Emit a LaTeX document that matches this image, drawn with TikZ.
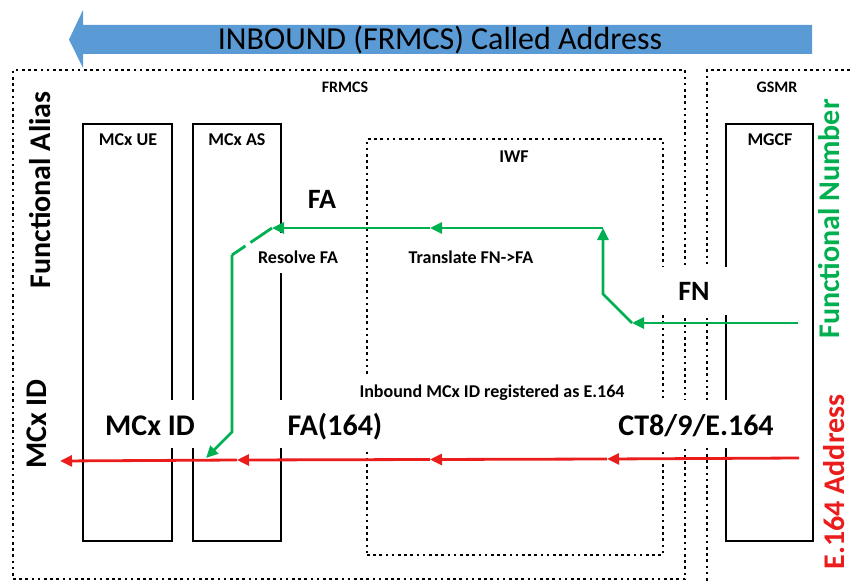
\documentclass[tikz,border=0pt]{standalone}
\usepackage{fontspec}
\setmainfont{Carlito}
\usetikzlibrary{arrows.meta}
\definecolor{fgreen}{HTML}{00B050}
\definecolor{fred}{HTML}{EB1C1C}
\definecolor{fblue}{HTML}{5B9BD5}
\tikzset{
  zone/.style={draw, line width=1.9pt, dash pattern=on 2.6pt off 3.6pt, inner sep=0pt, outer sep=0pt},
  unit/.style={draw, line width=1.5pt, inner sep=0pt, outer sep=0pt},
  small/.style={font=\fontsize{18}{20}\selectfont\bfseries, inner sep=1pt},
  tiny/.style={font=\fontsize{16}{18}\selectfont\bfseries, inner sep=1pt},
  big/.style={font=\fontsize{30}{32}\selectfont\bfseries, fill=white, inner sep=0pt, anchor=base},
  side/.style={font=\fontsize{30}{32}\selectfont\bfseries, rotate=90, inner sep=0pt},
  gflow/.style={fgreen, line width=2.8pt, -{Triangle[length=12pt,width=11pt]}},
  rflow/.style={fred, line width=2.8pt, -{Triangle[length=12pt,width=11pt]}},
}
\begin{document}
\begin{tikzpicture}[x=1pt,y=-1pt]
\useasboundingbox (0,0) rectangle (851,583);

% banner
\fill[fblue] (812,25) -- (83,25) -- (83,10) -- (69,39.5) -- (83,68) -- (83,54) -- (812,54) -- cycle;
\node[font=\fontsize{32}{34}\selectfont] (title) at (440,40) {INBOUND (FRMCS) Called Address};

% domains
\node[zone, minimum width=672pt, minimum height=509pt] (frmcs) at (349,324.5) {};
\node[zone, minimum width=163pt, minimum height=530pt] (gsmr) at (788.5,335) {};
\node[zone, minimum width=296pt, minimum height=416pt] (iwf) at (515,347) {};
\node[tiny] (frmcslbl) at (345,87) {FRMCS};
\node[tiny] (gsmrlbl) at (777,87) {GSMR};
\node[small] (iwflbl) at (514,157) {IWF};

% entities
\node[unit, minimum width=89pt, minimum height=417pt] (ue) at (127.5,332.5) {};
\node[unit, minimum width=88pt, minimum height=417pt] (as) at (237,332.5) {};
\node[unit, minimum width=87pt, minimum height=417pt] (mgcf) at (769.5,332.5) {};
\node[small] (uelbl) at (128,140) {MCx UE};
\node[small] (aslbl) at (237,140) {MCx AS};
\node[small] (mgcflbl) at (770,140) {MGCF};

% labels on the flows (white, they cut the box lines)
\node[big, font=\fontsize{28}{30}\selectfont\bfseries] (fa) at (322,208) {FA};
\node[small, fill=white, anchor=base, text height=30pt, text depth=10pt, inner sep=0pt, inner xsep=2pt] (resolve) at (298,263) {Resolve FA};
\node[small, anchor=base] (translate) at (471,263) {Translate FN->FA};
\node[big, font=\fontsize{28}{30}\selectfont\bfseries, minimum width=72pt, text height=33pt, text depth=15pt] (fn) at (694,300) {FN};
\node[small, fill=white, anchor=base, text height=20pt, text depth=3pt, inner sep=0pt] (inbound) at (492,397) {Inbound MCx ID registered as E.164};
\node[big, text height=35pt, text depth=13pt] (mcxid) at (150,435) {MCx ID};
\node[big, minimum width=114pt, text height=35pt, text depth=13pt] (fa164) at (335,435) {FA(164)};
\node[big, text height=35pt, text depth=13pt] (ct) at (696,435) {CT8/9/E.164};

% side titles
\node[side] (alias) at (40,190) {Functional Alias};
\node[side] (idside) at (37,424) {MCx ID};
\node[side, text=fgreen] (number) at (829,219) {Functional Number};
\node[side, text=fred] (e164) at (834,482) {E.164 Address};

% green flow
\coordinate (g0) at (798,323);
\coordinate (g1) at (632,323);
\coordinate (g2) at (603,294);
\coordinate (g3) at (603,228);
\coordinate (g4) at (430,228);
\coordinate (g5) at (272,228);
\coordinate (g6) at (232,255);
\coordinate (g7) at (232,432);
\coordinate (g8) at (206,458);
\draw[gflow] (g0) -- (g1);
\draw[gflow] (g1) -- (g2) -- (g3);
\draw[gflow] (g3) -- (g4);
\draw[gflow] (g4) -- (g5);
\draw[fgreen, line width=2.8pt, dash pattern=on 26pt off 6pt on 30pt] (g5) -- (g6);
\draw[gflow] (g6) -- (g7) -- (g8);

% red flow
\coordinate (r0) at (799,458);
\coordinate (r1) at (607,459);
\coordinate (r2) at (430,459.5);
\coordinate (r3) at (237,460);
\coordinate (r4) at (60,461);
\draw[rflow] (r0) -- (r1);
\draw[rflow] (r1) -- (r2);
\draw[rflow] (r2) -- (r3);
\draw[rflow] (r3) -- (r4);

\end{tikzpicture}
\end{document}
